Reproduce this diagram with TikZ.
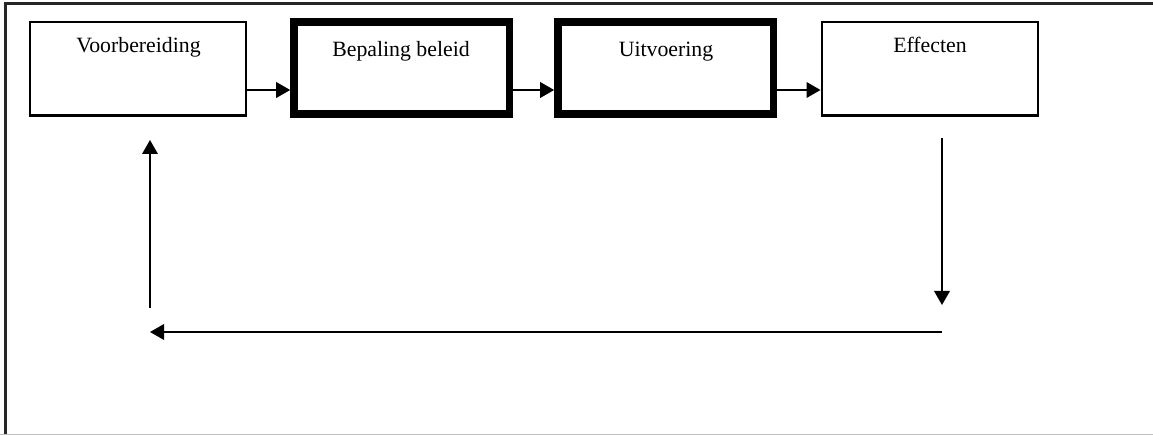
\documentclass[tikz,border=0pt]{standalone}
\usepackage{fontspec}
\setmainfont{Liberation Serif}
\usetikzlibrary{arrows.meta}

\begin{document}
\begin{tikzpicture}[x=1pt,y=-1pt,
  thinbox/.style={draw=black,line width=2.4pt,rectangle,inner sep=0pt,
                  minimum width=216pt,minimum height=93.5pt},
  thickbox/.style={draw=black,line width=7.6pt,rectangle,inner sep=0pt,
                   minimum width=215.6pt,minimum height=92pt},
  boxtext/.style={anchor=base,inner sep=0pt,font=\fontsize{21.8}{26}\selectfont},
  flow/.style={line width=2pt,-{Triangle[length=14pt,width=15.5pt]}}]

\useasboundingbox (0,0) rectangle (1153,435);

% outer frame: dark top and left edge, faint bottom edge
\draw[line width=2.8pt,black!85] (5.8,436) -- (5.8,3.8) -- (1154,3.8);
\draw[line width=1pt,black!25] (0,434.5) -- (1153,434.5);

% process boxes
\node[thinbox]  (voor) at (138.25,68.75) {};
\node[thickbox] (bep)  at (401.8,68)    {};
\node[thickbox] (uit)  at (665.75,68)   {};
\node[thinbox]  (eff)  at (929.75,68.75) {};

\node[boxtext] (tvoor) at (138.5,53) {Voorbereiding};
\node[boxtext] (tbep)  at (401,57)   {Bepaling beleid};
\node[boxtext] (tuit)  at (666,57)   {Uitvoering};
\node[boxtext] (teff)  at (930,53)   {Effecten};

% forward chain
\draw[flow] ([yshift=-21.25pt]voor.east) -- ([yshift=-22pt]bep.west);
\draw[flow] ([yshift=-22pt]bep.east) -- ([yshift=-22pt]uit.west);
\draw[flow] ([yshift=-22pt]uit.east) -- ([yshift=-21.25pt]eff.west);

% feedback loop
\coordinate (downstart) at (942,138);
\coordinate (downend)   at (942,305);
\coordinate (backstart) at (942,332);
\coordinate (backend)   at (150,332);
\coordinate (upstart)   at (150,308);
\coordinate (upend)     at (150,140);

\draw[flow] (downstart) -- (downend);
\draw[flow] (backstart) -- (backend);
\draw[flow] (upstart) -- (upend);
\end{tikzpicture}
\end{document}
